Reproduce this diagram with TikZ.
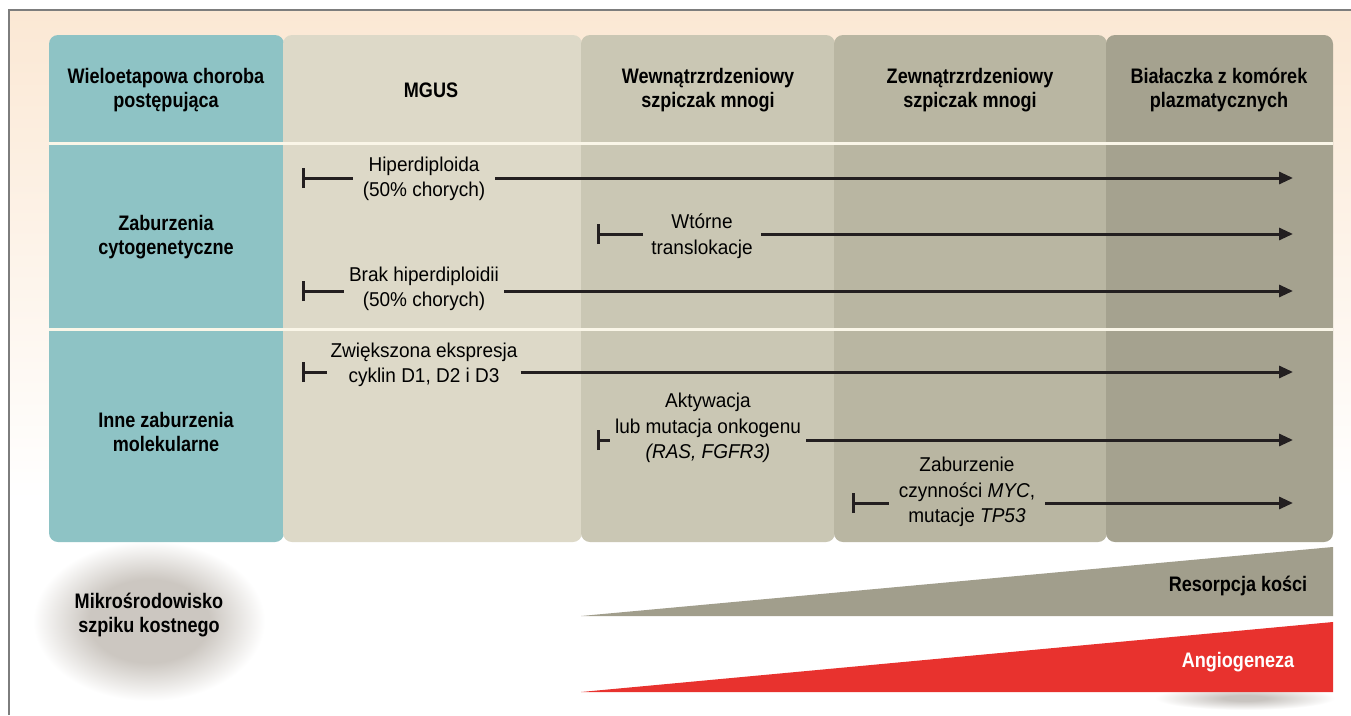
\documentclass[tikz,border=0pt]{standalone}
\usepackage{fontspec}
\setmainfont{Liberation Sans}[FakeStretch=0.95]
\newfontfamily\condb{Liberation Sans}[FakeStretch=0.86]
\usetikzlibrary{arrows.meta}
\definecolor{bgpeach}{RGB}{251,232,212}
\definecolor{framec}{RGB}{125,125,125}
\definecolor{colA}{RGB}{142,195,197}
\definecolor{colB}{RGB}{221,217,200}
\definecolor{colC}{RGB}{202,199,180}
\definecolor{colD}{RGB}{185,182,162}
\definecolor{colE}{RGB}{165,162,143}
\definecolor{divc}{RGB}{250,246,232}
\definecolor{linec}{RGB}{35,31,32}
\definecolor{tric}{RGB}{161,158,140}
\definecolor{redc}{RGB}{232,50,46}
\definecolor{ellc}{RGB}{204,199,193}
\definecolor{shadc}{RGB}{200,196,192}
\pgfdeclareradialshading{ellsh}{\pgfpointorigin}{color(0bp)=(ellc); color(13bp)=(ellc); color(25bp)=(white); color(50bp)=(white)}
\pgfdeclareradialshading{shadsh}{\pgfpointorigin}{color(0bp)=(shadc); color(6bp)=(shadc); color(25bp)=(white); color(50bp)=(white)}
\begin{document}
\begin{tikzpicture}[x=1pt,y=-1pt,
  hdr/.style={font=\condb\bfseries\fontsize{21}{24}\selectfont, align=center, text=black, inner sep=0pt},
  lbl/.style={font=\fontsize{20}{25.5}\selectfont, align=center, text=black, inner ysep=0pt},
  colbox/.style={rounded corners=9pt},
  barline/.style={line width=3pt, draw=linec, {Bar[width=20pt]}-},
  arrline/.style={line width=3pt, draw=linec, -{Triangle[length=14pt,width=12pt]}},
  divline/.style={draw=divc, line width=3pt}]
\useasboundingbox (0,0) rectangle (1351,715);
\fill[white] (0,0) rectangle (1351,715);
\shade[top color=bgpeach, bottom color=white] (9,10) rectangle (1351,500);
% bone marrow ellipse and shadow
\shade[shading=ellsh] (149,621) ellipse [x radius=116, y radius=80];
\shade[shading=shadsh] (1245,698) ellipse [x radius=90, y radius=12];
% frame
\draw[framec, line width=1.5pt] (9,715) -- (9,10) -- (1351,10);
% columns
\fill[colA, colbox] (49,35) rectangle (284,542);
\fill[colB, colbox] (283,35) rectangle (582,542);
\fill[colC, colbox] (581,35) rectangle (835,542);
\fill[colD, colbox] (834,35) rectangle (1107,542);
\fill[colE, colbox] (1106,35) rectangle (1333,542);
\draw[divline] (49,143) -- (1333,143);
\draw[divline] (49,329) -- (1333,329);
% headers
\node[hdr] (h0) at (166,90) {Wieloetapowa choroba\\postępująca};
\node[hdr] (h1) at (431,90) {MGUS};
\node[hdr] (h2) at (708,90) {Wewnątrzrdzeniowy\\szpiczak mnogi};
\node[hdr] (h3) at (970,90) {Zewnątrzrdzeniowy\\szpiczak mnogi};
\node[hdr] (h4) at (1219,90) {Białaczka z komórek\\plazmatycznych};
\node[hdr] (r1) at (166,237) {Zaburzenia\\cytogenetyczne};
\node[hdr] (r2) at (166,432) {Inne zaburzenia\\molekularne};
% arrows
\coordinate (s1) at (302,178); \coordinate (e1) at (1293,178);
\node[lbl, inner xsep=10pt] (t1) at (424,179) {Hiperdiploida\\(50\% chorych)};
\draw[barline] (s1) -- (t1.west |- s1);
\draw[arrline] (t1.east |- s1) -- (e1);
\coordinate (s2) at (597,234); \coordinate (e2) at (1293,234);
\node[lbl, inner xsep=8pt] (t2) at (702,236) {Wtórne\\translokacje};
\draw[barline] (s2) -- (t2.west |- s2);
\draw[arrline] (t2.east |- s2) -- (e2);
\coordinate (s3) at (302,291); \coordinate (e3) at (1293,291);
\node[lbl, inner xsep=5pt] (t3) at (424,289) {Brak hiperdiploidii\\(50\% chorych)};
\draw[barline] (s3) -- (t3.west |- s3);
\draw[arrline] (t3.east |- s3) -- (e3);
\coordinate (s4) at (302,372); \coordinate (e4) at (1293,372);
\node[lbl, inner xsep=3pt] (t4) at (424,365) {Zwiększona ekspresja\\cyklin D1, D2 i D3};
\draw[barline] (s4) -- (t4.west |- s4);
\draw[arrline] (t4.east |- s4) -- (e4);
\coordinate (s5) at (597,440); \coordinate (e5) at (1293,440);
\node[lbl, inner xsep=5pt] (t5) at (708,428) {Aktywacja\\lub mutacja onkogenu\\\textit{(RAS, FGFR3)}};
\draw[barline] (s5) -- (t5.west |- s5);
\draw[arrline] (t5.east |- s5) -- (e5);
\coordinate (s6) at (852,503); \coordinate (e6) at (1293,503);
\node[lbl, inner xsep=10pt] (t6) at (967,492) {Zaburzenie\\czynności \textit{MYC},\\mutacje \textit{TP53}};
\draw[barline] (s6) -- (t6.west |- s6);
\draw[arrline] (t6.east |- s6) -- (e6);
% bottom wedges
\fill[tric] (581,616) -- (1333,547) -- (1333,616) -- cycle;
\node[hdr] (res) at (1238,586) {Resorpcja kości};
\fill[redc] (581,692) -- (1333,622) -- (1333,692) -- cycle;
\node[hdr, text=white] (ang) at (1238,662) {Angiogeneza};
\node[hdr] (mik) at (149,615) {Mikrośrodowisko\\szpiku kostnego};
\end{tikzpicture}
\end{document}
